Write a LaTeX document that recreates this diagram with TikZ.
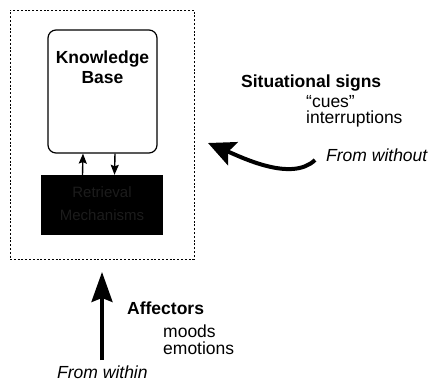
\documentclass[tikz,border=0pt]{standalone}
\usepackage{fontspec}
\setmainfont{Liberation Sans}
\usetikzlibrary{arrows.meta}
\definecolor{dimtext}{RGB}{28,28,28}
\tikzset{
  lbl/.style={inner sep=0pt, anchor=base west, font=\fontsize{17.5}{20}\selectfont},
  lblb/.style={lbl, font=\fontsize{17.5}{20}\selectfont\bfseries},
  lbli/.style={lbl, font=\fontsize{17.5}{20}\selectfont\itshape},
  frame/.style={draw, line width=0.9pt, dash pattern=on 2pt off 1.8pt, inner sep=0pt},
  kbbox/.style={draw, line width=1.2pt, rounded corners=8pt, inner sep=0pt},
  procbox/.style={fill=black, inner sep=0pt},
  link/.style={line width=1.4pt, -{Stealth[length=10pt,width=8pt,inset=1.5pt]}},
  bigarrow/.style={line width=3.3pt, -{Stealth[length=30pt,width=21pt,inset=4pt]}},
  curvearrow/.style={line width=4pt, -{Stealth[length=27pt,width=25pt,inset=5pt]}}
}
\begin{document}
\begin{tikzpicture}[x=1pt,y=-1pt]
  \useasboundingbox (0,0) rectangle (430,386);

  % outer dashed frame
  \node[frame, minimum width=184pt, minimum height=249pt] (outer) at (102,134.5) {};

  % knowledge base
  \node[kbbox, minimum width=109pt, minimum height=123pt] (kb) at (102.5,91.5) {};
  \node[inner sep=0pt, anchor=base, font=\fontsize{17.5}{20}\selectfont\bfseries] (kb1) at (102.5,63) {Knowledge};
  \node[inner sep=0pt, anchor=base, font=\fontsize{17.5}{20}\selectfont\bfseries] (kb2) at (102.5,83) {Base};

  % processing box
  \node[procbox, minimum width=122pt, minimum height=60pt] (proc) at (102,205) {};
  \node[inner sep=0pt, anchor=base, text=dimtext, font=\fontsize{15}{18}\selectfont] (pr1) at (102,197) {Retrieval};
  \node[inner sep=0pt, anchor=base, text=dimtext, font=\fontsize{15}{18}\selectfont] (pr2) at (102,220) {Mechanisms};

  % links between the two boxes
  \draw[link] ([xshift=-19.5pt]proc.north) -- ([xshift=-19.5pt]kb.south);
  \draw[link] ([xshift=12.5pt]kb.south) -- ([xshift=12.5pt]proc.north);

  % situational signs
  \node[lblb] (sit) at (241,87) {Situational signs};
  \node[lbl] (cues) at (306,107) {“cues”};
  \node[lbl] (intr) at (306,123) {interruptions};
  \node[lbli] (without) at (326,161) {From without};
  \coordinate (wtail) at (315,160);
  \coordinate (wtip) at (208,143);
  \draw[curvearrow] (wtail) .. controls (292,182) and (243,158) .. (wtip);

  % affectors
  \node[lblb] (aff) at (127,314) {Affectors};
  \node[lbl] (moods) at (163,337) {moods};
  \node[lbl] (emo) at (163,354) {emotions};
  \node[lbli] (within) at (57,378) {From within};
  \coordinate (itail) at (102,360);
  \coordinate (itip) at (102,272);
  \draw[bigarrow] (itail) -- (itip);
\end{tikzpicture}
\end{document}
